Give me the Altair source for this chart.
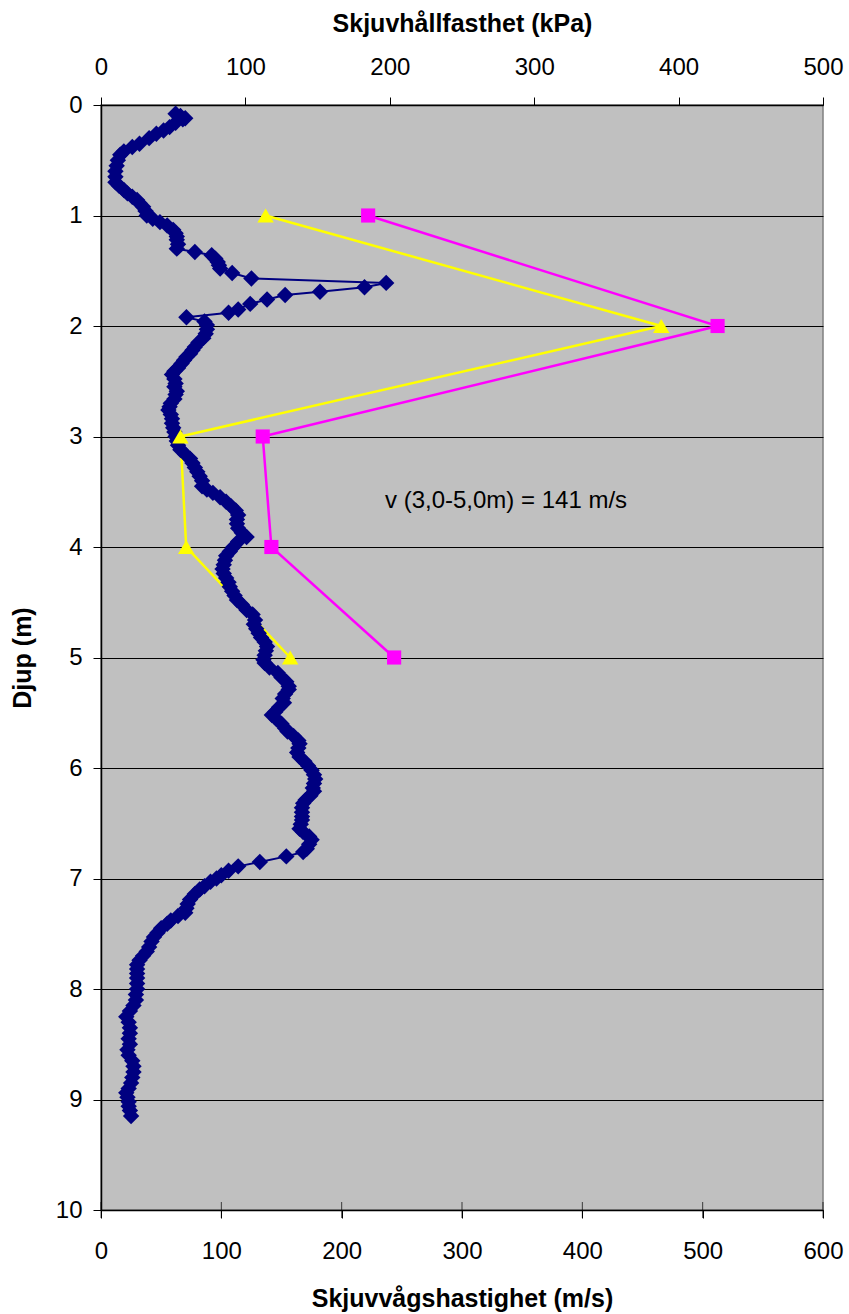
import altair as alt
import pandas as pd

# Shear-wave velocity profile (depth in m, velocity in m/s)
blue_depth = [
    0.08, 0.10, 0.12, 0.13, 0.16, 0.20, 0.23, 0.26, 0.30, 0.35, 0.38, 0.42, 0.45, 0.50,
    0.55, 0.60, 0.65, 0.70, 0.73, 0.77, 0.80, 0.83, 0.86, 0.89, 0.92, 0.96, 1.00, 1.03,
    1.06, 1.09, 1.13, 1.16, 1.19, 1.22, 1.26, 1.30, 1.33, 1.36, 1.39, 1.42, 1.45, 1.48,
    1.52, 1.57, 1.61, 1.65, 1.69, 1.72, 1.76, 1.80, 1.85, 1.88, 1.92, 1.96, 1.99, 2.03,
    2.07, 2.11, 2.15, 2.19, 2.22, 2.25, 2.28, 2.31, 2.34, 2.38, 2.41, 2.44, 2.48, 2.52,
    2.55, 2.59, 2.62, 2.66, 2.70, 2.73, 2.76, 2.80, 2.84, 2.88, 2.92, 2.96, 3.00, 3.04,
    3.08, 3.12, 3.16, 3.20, 3.24, 3.28, 3.32, 3.36, 3.40, 3.45, 3.48, 3.51, 3.55, 3.59,
    3.63, 3.67, 3.71, 3.75, 3.79, 3.83, 3.87, 3.91, 3.95, 4.00, 4.04, 4.08, 4.12, 4.16,
    4.20, 4.24, 4.28, 4.32, 4.36, 4.40, 4.44, 4.48, 4.52, 4.57, 4.61, 4.66, 4.70, 4.74,
    4.78, 4.82, 4.86, 4.90, 4.94, 4.98, 5.02, 5.05, 5.09, 5.14, 5.18, 5.22, 5.26, 5.29,
    5.33, 5.37, 5.41, 5.45, 5.49, 5.52, 5.56, 5.60, 5.64, 5.67, 5.71, 5.75, 5.78, 5.82,
    5.86, 5.90, 5.94, 5.98, 6.02, 6.06, 6.10, 6.14, 6.18, 6.21, 6.25, 6.29, 6.32, 6.36,
    6.40, 6.44, 6.47, 6.51, 6.55, 6.58, 6.62, 6.65, 6.69, 6.73, 6.76, 6.80, 6.85, 6.89,
    6.93, 6.97, 7.00, 7.03, 7.07, 7.10, 7.14, 7.19, 7.23, 7.27, 7.31, 7.34, 7.38, 7.41,
    7.45, 7.49, 7.53, 7.57, 7.62, 7.66, 7.70, 7.74, 7.78, 7.82, 7.86, 7.90, 7.95, 8.00,
    8.05, 8.10, 8.15, 8.20, 8.25, 8.30, 8.35, 8.40, 8.45, 8.50, 8.55, 8.60, 8.65, 8.70,
    8.75, 8.80, 8.85, 8.90, 8.94, 8.98, 9.02, 9.06, 9.10, 9.15,
]
blue_speed = [
    62, 66, 70, 68, 62, 57, 52, 46, 40, 32, 26, 19, 16, 14,
    13, 12, 12, 12, 15, 19, 22, 26, 30, 32, 35, 37, 38, 43,
    49, 55, 60, 62, 63, 63, 64, 63, 78, 92, 95, 97, 98, 99,
    109, 125, 237, 219, 182, 153, 138, 124, 114, 106, 71, 86, 88, 88,
    87, 85, 81, 78, 76, 74, 71, 69, 67, 64, 61, 59, 61, 62,
    61, 63, 62, 61, 58, 57, 56, 58, 59, 59, 60, 61, 62, 63,
    64, 66, 70, 74, 76, 78, 80, 82, 84, 84, 88, 93, 99, 104,
    108, 112, 114, 113, 113, 114, 117, 121, 114, 110, 107, 104, 103, 102,
    101, 102, 104, 106, 107, 109, 111, 113, 117, 121, 126, 128, 127, 129,
    131, 133, 136, 138, 137, 136, 135, 136, 140, 147, 150, 154, 156, 156,
    153, 151, 152, 148, 145, 142, 146, 150, 153, 155, 160, 164, 165, 164,
    163, 165, 169, 172, 175, 177, 178, 177, 176, 177, 174, 170, 168, 167,
    167, 167, 167, 166, 165, 168, 173, 175, 173, 171, 168, 154, 132, 114,
    106, 100, 96, 91, 86, 82, 78, 74, 72, 71, 70, 64, 58, 55,
    50, 47, 44, 42, 40, 38, 35, 32, 30, 30, 30, 30, 30, 30,
    29, 29, 27, 24, 21, 23, 24, 24, 23, 24, 22, 23, 26, 27,
    27, 26, 25, 23, 21, 22, 23, 23, 24, 25,
]

# Shear strength from lab tests (kPa)
lab_depth = [1, 2, 3, 4, 5]
yellow_kpa = [114, 388, 55, 59, 131]
magenta_kpa = [185, 427, 112, 118, 203]

speed_ticks = [0, 100, 200, 300, 400, 500, 600]
strength_ticks = [0, 100, 200, 300, 400, 500]
depth_ticks = [0, 1, 2, 3, 4, 5, 6, 7, 8, 9, 10]

note_text = ["v (3,0-5,0m) = 141 m/s"]
note_speed = [236]
note_depth = [3.58]

FONT = "Liberation Sans"
NAVY = "#000080"
YELLOW = "#FFFF00"
MAGENTA = "#FF00FF"

vel = pd.DataFrame({"depth": blue_depth, "speed": blue_speed})
yel = pd.DataFrame({"depth": lab_depth, "kpa": yellow_kpa})
mag = pd.DataFrame({"depth": lab_depth, "kpa": magenta_kpa})
ticks = pd.DataFrame({"speed": speed_ticks, "depth": [10] * len(speed_ticks)})
note = pd.DataFrame({"speed": note_speed, "depth": note_depth, "label": note_text})

speed_scale = alt.Scale(domain=[0, 600], nice=False, zero=True)
kpa_scale = alt.Scale(domain=[0, 500], nice=False, zero=True)
depth_scale = alt.Scale(domain=[0, 10], reverse=True, nice=False)

axis_common = dict(
    labelFont=FONT, labelFontSize=24, labelColor="black",
    titleFont=FONT, titleFontSize=25, titleFontWeight="bold", titleColor="black",
    tickSize=8, tickColor="black", tickWidth=1,
    domainColor="black", domainWidth=1.5,
    labelFlush=False, labelOverlap=False,
)

y_axis = alt.Axis(
    values=depth_ticks, grid=True, gridColor="black", gridWidth=1, gridOpacity=1,
    title="Djup (m)", labelPadding=11, titleX=-71, titleY=552.5,
    titleAngle=-90, titleBaseline="alphabetic", titleAlign="center",
    **axis_common,
)
bottom_axis = alt.Axis(
    values=speed_ticks, orient="bottom", grid=False,
    title="Skjuvvågshastighet (m/s)", labelBaseline="alphabetic", labelPadding=40,
    titleY=96, titleBaseline="alphabetic",
    **axis_common,
)
top_axis = alt.Axis(
    values=strength_ticks, orient="top", grid=False,
    title="Skjuvhållfasthet (kPa)", labelBaseline="alphabetic", labelPadding=23,
    titleY=-74, titleBaseline="alphabetic",
    **axis_common,
)

# every layer shares one depth scale and one depth axis definition
y_enc = alt.Y("depth:Q", scale=depth_scale, axis=y_axis)

yellow_line = alt.Chart(yel).mark_line(color=YELLOW, strokeWidth=2.5).encode(
    x=alt.X("kpa:Q", scale=kpa_scale, axis=top_axis),
    y=y_enc,
    order="depth:Q",
)
magenta_line = alt.Chart(mag).mark_line(color=MAGENTA, strokeWidth=2.5).encode(
    x=alt.X("kpa:Q", scale=kpa_scale, axis=None),
    y=y_enc,
    order="depth:Q",
)
vel_line = alt.Chart(vel).mark_line(color=NAVY, strokeWidth=2).encode(
    x=alt.X("speed:Q", scale=speed_scale, axis=bottom_axis),
    y=y_enc,
    order="depth:Q",
)
vel_points = alt.Chart(vel).mark_point(
    shape="diamond", filled=True, size=270, color=NAVY, opacity=1
).encode(
    x=alt.X("speed:Q", scale=speed_scale, axis=None),
    y=y_enc,
)
yellow_points = alt.Chart(yel).mark_point(
    shape="triangle-up", filled=True, size=270, color=YELLOW, opacity=1
).encode(
    x=alt.X("kpa:Q", scale=kpa_scale, axis=None),
    y=y_enc,
)
magenta_points = alt.Chart(mag).mark_point(
    shape="square", filled=True, size=200, color=MAGENTA, opacity=1
).encode(
    x=alt.X("kpa:Q", scale=kpa_scale, axis=None),
    y=y_enc,
)
# inner half of the crossing ticks on the velocity axis
cross_ticks = alt.Chart(ticks).mark_tick(
    orient="vertical", size=16, thickness=1, color="black"
).encode(
    x=alt.X("speed:Q", scale=speed_scale, axis=None),
    y=y_enc,
)
note_layer = alt.Chart(note).mark_text(
    align="left", baseline="middle", font=FONT, fontSize=24, color="black"
).encode(
    x=alt.X("speed:Q", scale=speed_scale, axis=None),
    y=y_enc,
    text="label:N",
)

chart = alt.layer(
    yellow_line, magenta_line, vel_line, vel_points,
    yellow_points, magenta_points, cross_ticks, note_layer,
).resolve_scale(
    x="independent"
).properties(
    width=722,
    height=1105,
    autosize=alt.AutoSizeParams(type="none"),
    padding={"left": 101, "top": 105, "right": 26, "bottom": 104},
    background="white",
).configure_view(
    fill="#C0C0C0", stroke="#808080", strokeWidth=1.5
)

chart.save("out.html", embed_options={"renderer": "svg", "actions": False})
